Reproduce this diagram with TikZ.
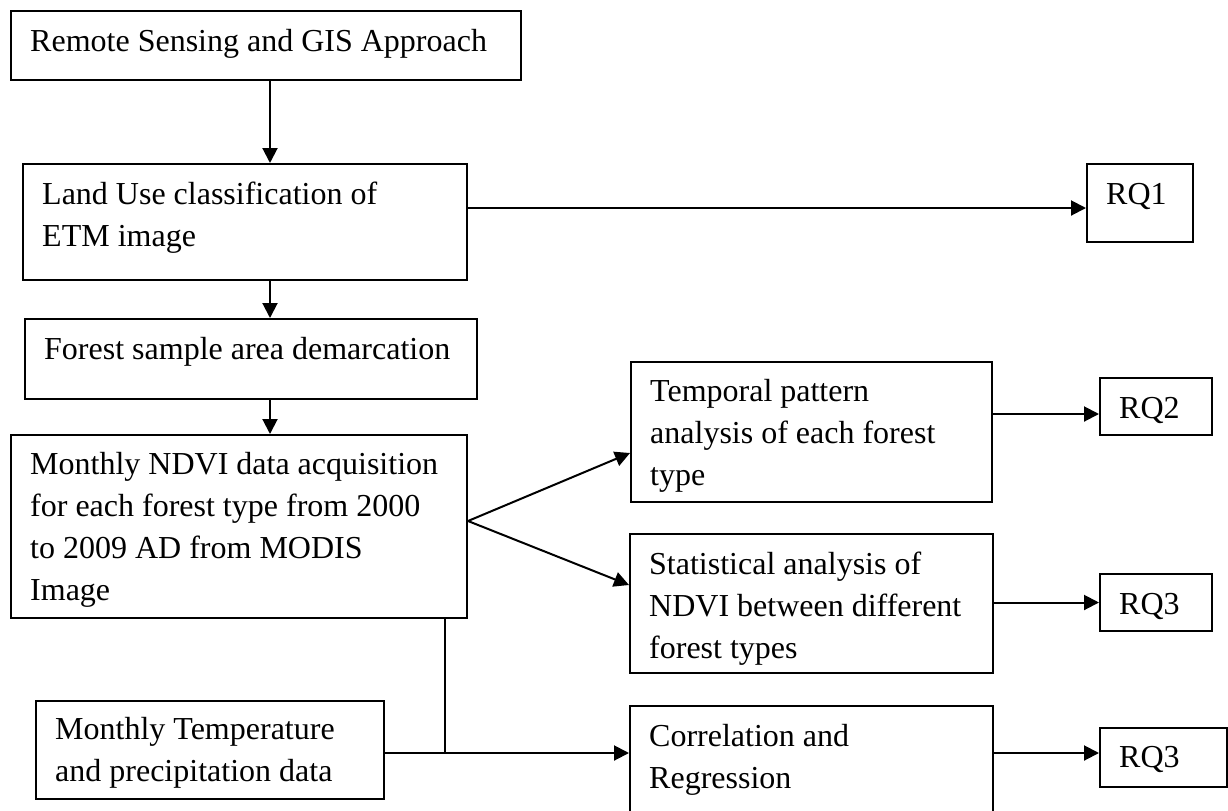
\documentclass[tikz,border=0pt]{standalone}
\usepackage{fontspec}
\setmainfont{Liberation Serif}
\usetikzlibrary{arrows.meta}

\tikzset{
	box/.style={draw, line width=1pt, anchor=north west, align=flush left, inner xsep=9.6pt, inner ysep=0pt, font=\fontsize{16}{21}\selectfont},
	arr/.style={line width=1pt, -{Triangle[length=7.5pt,width=7.5pt]}},
	wire/.style={line width=1pt}
}

\begin{document}
\begin{tikzpicture}[x=0.5pt, y=-0.5pt]
			%%%%% START %%%%%
			\useasboundingbox (0, 0) rectangle (1228, 810);
			
			\node[box, text width=235.8pt, text height=20pt, text depth=14.5pt] (rs) at (10, 10) {Remote Sensing and GIS Approach};
			\node[box, text width=202.8pt, text height=20pt, text depth=38pt] (lu) at (22, 163) {Land Use classification of\\ETM image};
			\node[box, text width=206.8pt, text height=20pt, text depth=20pt] (fs) at (24, 318) {Forest sample area demarcation};
			\node[box, text width=208.8pt, text height=19.5pt, text depth=72pt] (nd) at (10, 434) {Monthly NDVI data acquisition\\for each forest type from 2000\\to 2009 AD from MODIS\\Image};
			\node[box, text width=154.8pt, text height=19pt, text depth=30pt] (mt) at (35, 700) {Monthly Temperature\\and precipitation data};
			
			\node[box, text width=161.3pt, text height=19.5pt, text depth=50.5pt] (tp) at (630, 361) {Temporal pattern\\analysis of each forest\\type};
			\node[box, text width=162.3pt, text height=20pt, text depth=49.5pt] (sa) at (629, 533) {Statistical analysis of\\NDVI between different\\forest types};
			\node[box, text width=162.3pt, text height=20pt, text depth=36.5pt] (cr) at (629, 705) {Correlation and\\Regression};
			
			\node[box, text width=33.8pt, text height=20pt, text depth=19pt] (rq1) at (1086, 163) {RQ1};
			\node[box, text width=36.8pt, text height=20pt, text depth=8.5pt] (rq2) at (1099, 377) {RQ2};
			\node[box, text width=36.8pt, text height=20pt, text depth=8.5pt] (rq3a) at (1099, 573) {RQ3};
			\node[box, text width=44.3pt, text height=19.5pt, text depth=10pt] (rq3b) at (1099, 727) {RQ3};
			
			% down the left column
			\coordinate (sp) at (270, 0);
			\draw[arr] (rs.south -| sp) -- (lu.north -| sp);
			\draw[arr] (lu.south -| sp) -- (fs.north -| sp);
			\draw[arr] (fs.south -| sp) -- (nd.north -| sp);
			
			\coordinate (a1) at ([yshift=-2.5pt]rq1.west);
			\draw[arr] (lu.east |- a1) -- (a1);
			
			% fan out of the NDVI box
			\coordinate (fan) at ([yshift=2.75pt]nd.east);
			\draw[arr] (fan) -- ([yshift=-10.5pt]tp.west);
			\draw[arr] (fan) -- ([yshift=9.25pt]sa.west);
			
			% climate data joins the NDVI line
			\coordinate (jn) at (445, 753);
			\draw[wire] (nd.south -| jn) -- (jn);
			\draw[arr] (mt.east |- jn) -- (cr.west |- jn);
			
			\coordinate (a2) at ([yshift=-3.75pt]rq2.west);
			\draw[arr] (tp.east |- a2) -- (a2);
			\draw[arr] (sa.east |- rq3a.west) -- (rq3a.west);
			\draw[arr] (cr.east |- jn) -- (rq3b.west |- jn);
			%%%%% END %%%%%
\end{tikzpicture}
\end{document}
